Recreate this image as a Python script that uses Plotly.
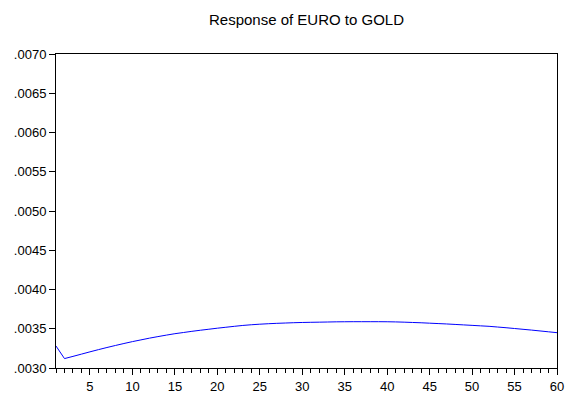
import plotly.graph_objects as go

periods = list(range(1, 61))
response = [
    0.003280, 0.003120, 0.003148, 0.003177, 0.003206, 0.003234, 0.003261, 0.003287, 0.003312, 0.003336,
    0.003358, 0.003380, 0.003400, 0.003419, 0.003437, 0.003452, 0.003467, 0.003481, 0.003494, 0.003507,
    0.003519, 0.003531, 0.003542, 0.003551, 0.003558, 0.003564, 0.003569, 0.003573, 0.003577, 0.003580,
    0.003582, 0.003584, 0.003586, 0.003588, 0.003589, 0.003590, 0.003590, 0.003590, 0.003590, 0.003589,
    0.003587, 0.003584, 0.003580, 0.003576, 0.003571, 0.003566, 0.003561, 0.003555, 0.003549, 0.003543,
    0.003537, 0.003531, 0.003522, 0.003513, 0.003503, 0.003493, 0.003483, 0.003472, 0.003461, 0.003450,
]
y_ticks = [0.0030, 0.0035, 0.0040, 0.0045, 0.0050, 0.0055, 0.0060, 0.0065, 0.0070]
y_labels = [".0030", ".0035", ".0040", ".0045", ".0050", ".0055", ".0060", ".0065", ".0070"]
x_ticks = list(range(5, 61, 5))

fig = go.Figure()
fig.add_trace(go.Scatter(x=periods, y=response, mode="lines",
                         line=dict(color="rgb(0,0,255)", width=1, simplify=False),
                         showlegend=False))

fig.update_layout(
    width=568, height=398,
    margin=dict(l=56, r=11, t=54, b=30, autoexpand=False),
    paper_bgcolor="white", plot_bgcolor="white",
    font=dict(family="Liberation Sans, Arial, sans-serif", size=13, color="black"),
    title=dict(text="Response of EURO to GOLD", x=0.5, xref="paper", xanchor="center",
               y=1 - 19.5 / 398, yanchor="middle", font=dict(size=15, color="black")),
)
fig.update_xaxes(range=[1, 60], tickvals=x_ticks, ticktext=[str(v) for v in x_ticks],
                 ticks="outside", ticklen=6, tickcolor="black", tickwidth=1,
                 minor=dict(dtick=1, tick0=1, ticks="outside", ticklen=4, tickcolor="black", tickwidth=1),
                 showline=True, linecolor="black", linewidth=1, mirror=True,
                 showgrid=False, zeroline=False, tickfont=dict(size=13), automargin=False)
fig.update_yaxes(range=[0.003, 0.007], tickvals=y_ticks, ticktext=y_labels,
                 ticks="outside", ticklen=6, tickcolor="black", tickwidth=1,
                 showline=True, linecolor="black", linewidth=1, mirror=True,
                 showgrid=False, zeroline=False, tickfont=dict(size=13), automargin=False)

fig.write_html("out.html")
